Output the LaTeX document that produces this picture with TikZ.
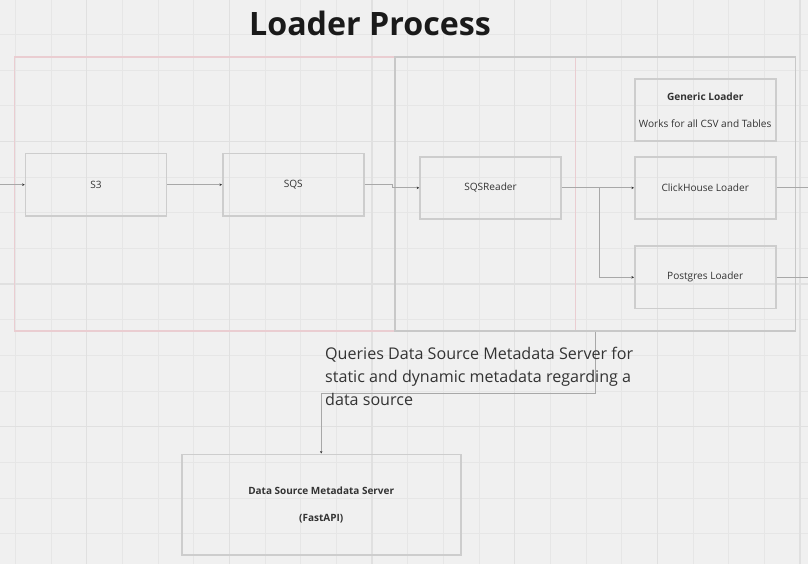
\documentclass[tikz,border=0pt]{standalone}
\usepackage{fontspec}
\setmainfont{Open Sans}
\usetikzlibrary{arrows.meta,calc}
\definecolor{bg}{HTML}{F0F0F0}
\definecolor{gridminor}{HTML}{E6E6E6}
\definecolor{gridmajor}{HTML}{E0E0E0}
\definecolor{boxline}{HTML}{CDCDCD}
\definecolor{redline}{HTML}{EACDD1}
\definecolor{contline}{HTML}{C8C8C8}
\definecolor{conn}{HTML}{A8A8A8}
\definecolor{txt}{HTML}{333333}
\definecolor{ttl}{HTML}{1A1A1A}
\tikzset{
  minorgrid/.style={draw=gridminor,line width=0.8pt},
  majorgrid/.style={draw=gridmajor,line width=1.2pt},
  box/.style={draw=boxline,line width=1.6pt,rectangle,inner sep=0pt,
    minimum width=141pt,minimum height=62pt,text=txt,
    font=\fontsize{10.1}{12}\selectfont,align=center},
  container/.style={rectangle,inner sep=0pt,line width=1.4pt},
  conn/.style={draw=conn,line width=1pt},
  arr/.style={conn,-{Stealth[length=2.5pt,width=2.5pt,color=txt]}},
}
\begin{document}
\begin{tikzpicture}[x=1pt,y=-1pt]
\useasboundingbox (0,0) rectangle (808,564);
\fill[bg] (0,0) rectangle (808,564);
% grid
\foreach \i in {0,...,22} {\draw[minorgrid] ({15.33+35.67*\i},0) -- ({15.33+35.67*\i},564);}
\foreach \j in {0,...,16} {\draw[minorgrid] (0,{-1.33+35.67*\j}) -- (808,{-1.33+35.67*\j});}
\foreach \i in {2,6,10,14,18,22} {\draw[majorgrid] ({15.33+35.67*\i},0) -- ({15.33+35.67*\i},564);}
\foreach \j in {4,8,12,16} {\draw[majorgrid] (0,{-1.33+35.67*\j}) -- (808,{-1.33+35.67*\j});}

% title
\node[font=\fontsize{32.2}{36}\selectfont\bfseries,text=ttl,inner sep=0pt] (title) at (370,23) {Loader Process};

% containers
\node[container,draw=redline,minimum width=560.6pt,minimum height=274.3pt] (cont1) at (295,194) {};
\node[container,draw=contline,minimum width=400.3pt,minimum height=274pt] (cont2) at (595.2,194) {};

% boxes
\node[box] (s3) at (96,184.7) {S3};
\node[box] (sqs) at (293.3,184.7) {SQS};
\node[box] (reader) at (490.5,187.8) {SQSReader};
\node[box] (generic) at (705.2,110.3) {{\bfseries Generic Loader}\\[14.5pt]Works for all CSV and Tables};
\node[box] (click) at (705.2,187.8) {ClickHouse Loader};
\node[box,minimum height=62.7pt] (pg) at (705.2,277.3) {Postgres Loader};
\node[box,minimum width=279pt,minimum height=100.7pt,font=\fontsize{10}{12}\selectfont\bfseries] (meta) at (321.2,504.7) {Data Source Metadata Server\\[15pt](FastAPI)};

% connectors
\coordinate (in) at (0,184.7);
\coordinate (out1) at (808,187.8);
\coordinate (out2) at (808,277.3);
\draw[arr] (in) -- (s3.west);
\draw[arr] (s3.east) -- (sqs.west);
\draw[arr] (sqs.east) -- ++(28.3,0) |- (reader.west);
\draw[arr] (reader.east) -- (click.west);
\draw[arr] (reader.east) -- ++(37.3,0) |- (pg.west);
\draw[conn] (click.east) -- (out1);
\draw[conn] (pg.east) -- (out2);
\draw[arr] (cont2.south) -- ++(0,62) -| (meta.north);

% annotation
\node[anchor=north west,inner sep=0pt,align=left,text=txt,
  font=\fontsize{16.1}{22.8}\selectfont] (note) at (325,347)
  {Queries Data Source Metadata Server for\\static and dynamic metadata regarding a\\data source};
\end{tikzpicture}
\end{document}
